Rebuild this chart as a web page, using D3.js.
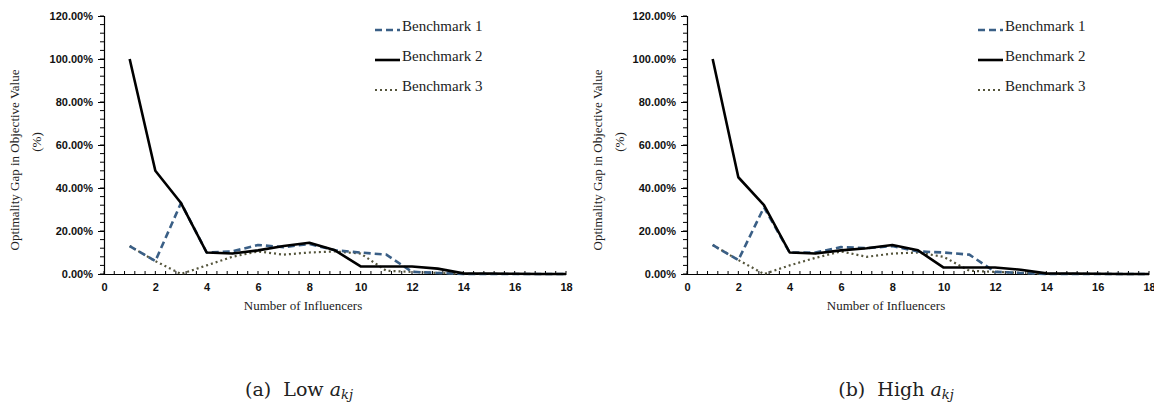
<!DOCTYPE html>
<html>
<head>
<meta charset="utf-8">
<script src="https://cdn.jsdelivr.net/npm/d3@7"></script>
<style>
  body { margin: 0; background: #fff; }
  svg { display: block; }
</style>
</head>
<body>
<svg id="chart"></svg>
<script>
// number of influencers (x)
const influencers = [1, 2, 3, 4, 5, 6, 7, 8, 9, 10, 11, 12, 13, 14, 15, 16, 17, 18];

// (a) Low a_kj, optimality gap in %
const lowBench1 = [13, 6, 33, 10, 10.5, 13.5, 12.5, 14, 11, 10, 9, 1, 0.5, 0, 0, 0, 0, 0];
const lowBench2 = [100, 48, 33, 10, 9.5, 11, 13, 14.5, 11, 3.5, 3.5, 3.5, 2.5, 0.3, 0.2, 0.1, 0, 0];
const lowBench3 = [13, 6, 0, 4, 8, 10.5, 9, 10, 10.5, 9.5, 1.5, 1, 0.5, 0, 0, 0, 0, 0];

// (b) High a_kj
const highBench1 = [13.5, 6.5, 31, 10, 10, 12.5, 12, 13, 10.5, 10, 9, 1, 0.5, 0, 0, 0, 0, 0];
const highBench2 = [100, 45, 32, 10, 9.5, 11, 12, 13.5, 11, 3, 3, 3, 2, 0.3, 0.2, 0.1, 0, 0];
const highBench3 = [13.5, 6.5, 0, 4, 7.5, 10.5, 8, 9.5, 10, 8, 1.5, 1, 0.5, 0, 0, 0, 0, 0];

const seriesNames = ["Benchmark 1", "Benchmark 2", "Benchmark 3"];
const yTicks = [0, 20, 40, 60, 80, 100, 120];
const xTicks = [0, 2, 4, 6, 8, 10, 12, 14, 16, 18];
const captions = [["(a)", "Low"], ["(b)", "High"]];

const width = 1154;
const height = 404;
const serif = "'Liberation Serif', 'Times New Roman', serif";
const sans = "'Liberation Sans', Arial, sans-serif";

const svg = d3.select("#chart").attr("width", width).attr("height", height);

const styles = [
  { stroke: "#3a5f86", width: 2.6, dash: "7,4" },
  { stroke: "#000000", width: 2.6, dash: null },
  { stroke: "#55553c", width: 2.2, dash: "2,3" }
];

function drawPanel(left, data, caption, legendDx, captionDx) {
  const plotW = 462;
  const top = 16;
  const bottom = 274;

  const x = d3.scaleLinear().domain([0, 18]).range([left, left + plotW]);
  const y = d3.scaleLinear().domain([0, 120]).range([bottom, top]);

  const g = svg.append("g");

  // minor ticks
  g.selectAll("line.ymin")
    .data(d3.range(0, 120.01, 4))
    .enter()
    .append("line")
    .attr("x1", left - 4)
    .attr("x2", left)
    .attr("y1", d => y(d))
    .attr("y2", d => y(d))
    .attr("stroke", "#000")
    .attr("stroke-width", 1);

  g.selectAll("line.xmin")
    .data(d3.range(0, 18.01, 0.4))
    .enter()
    .append("line")
    .attr("x1", d => x(d))
    .attr("x2", d => x(d))
    .attr("y1", bottom)
    .attr("y2", bottom - 3)
    .attr("stroke", "#000")
    .attr("stroke-width", 1);

  // y axis
  const yAxis = d3.axisLeft(y)
    .tickValues(yTicks)
    .tickSize(6)
    .tickPadding(5)
    .tickFormat(d => d.toFixed(2) + "%");
  const ya = g.append("g").attr("transform", `translate(${left},0)`).call(yAxis);
  ya.select(".domain").attr("stroke", "#000").attr("stroke-width", 1.2);
  ya.selectAll("text")
    .attr("font-family", sans)
    .attr("font-weight", "bold")
    .attr("font-size", "11px")
    .attr("fill", "#111");

  // x axis
  const xAxis = d3.axisBottom(x)
    .tickValues(xTicks)
    .tickSize(0)
    .tickPadding(9)
    .tickFormat(d3.format("d"));
  const xa = g.append("g").attr("transform", `translate(0,${bottom})`).call(xAxis);
  xa.select(".domain").attr("stroke", "#000").attr("stroke-width", 1.2);
  xa.selectAll("text")
    .attr("font-family", sans)
    .attr("font-weight", "bold")
    .attr("font-size", "11px")
    .attr("fill", "#111");

  // lines
  const line = d3.line()
    .x((d, i) => x(influencers[i]))
    .y(d => y(d));

  [2, 0, 1].forEach(k => {
    g.append("path")
      .datum(data[k])
      .attr("d", line)
      .attr("fill", "none")
      .attr("stroke", styles[k].stroke)
      .attr("stroke-width", styles[k].width)
      .attr("stroke-dasharray", styles[k].dash)
      .attr("stroke-linejoin", "round");
  });

  // legend
  const lg = g.append("g").attr("transform", `translate(${left + legendDx},0)`);
  seriesNames.forEach((name, k) => {
    const ly = 30 + k * 30;
    lg.append("line")
      .attr("x1", 0)
      .attr("x2", 25)
      .attr("y1", ly)
      .attr("y2", ly)
      .attr("stroke", styles[k].stroke)
      .attr("stroke-width", styles[k].width)
      .attr("stroke-dasharray", styles[k].dash);
    lg.append("text")
      .attr("x", 27)
      .attr("y", ly + 1)
      .text(name)
      .attr("font-family", serif)
      .attr("font-size", "15px")
      .attr("fill", "#222");
  });

  // y title
  g.append("text")
    .attr("transform", `translate(${left - 85},160) rotate(-90)`)
    .attr("text-anchor", "middle")
    .attr("font-family", serif)
    .attr("font-size", "13px")
    .attr("fill", "#222")
    .text("Optimality Gap in Objective Value");
  g.append("text")
    .attr("transform", `translate(${left - 63},142) rotate(-90)`)
    .attr("text-anchor", "middle")
    .attr("font-family", serif)
    .attr("font-size", "13px")
    .attr("fill", "#222")
    .text("(%)");

  // x title
  g.append("text")
    .attr("x", left + 199)
    .attr("y", 310)
    .attr("text-anchor", "middle")
    .attr("font-family", serif)
    .attr("font-size", "13px")
    .attr("fill", "#222")
    .text("Number of Influencers");

  // caption
  const cap = g.append("text")
    .attr("x", left + captionDx)
    .attr("y", 396)
    .attr("text-anchor", "middle")
    .attr("font-family", "'DejaVu Serif', serif")
    .attr("font-size", "19px")
    .attr("fill", "#222");
  cap.append("tspan").text(caption[0] + "\u00a0\u00a0" + caption[1] + "\u00a0");
  cap.append("tspan").attr("font-style", "italic").text("a");
  cap.append("tspan").attr("font-style", "italic").attr("font-size", "13px").attr("dy", 3).text("kj");
}

drawPanel(104, [lowBench1, lowBench2, lowBench3], captions[0], 271, 195);
drawPanel(687, [highBench1, highBench2, highBench3], captions[1], 291, 209);
</script>
</body>
</html>
